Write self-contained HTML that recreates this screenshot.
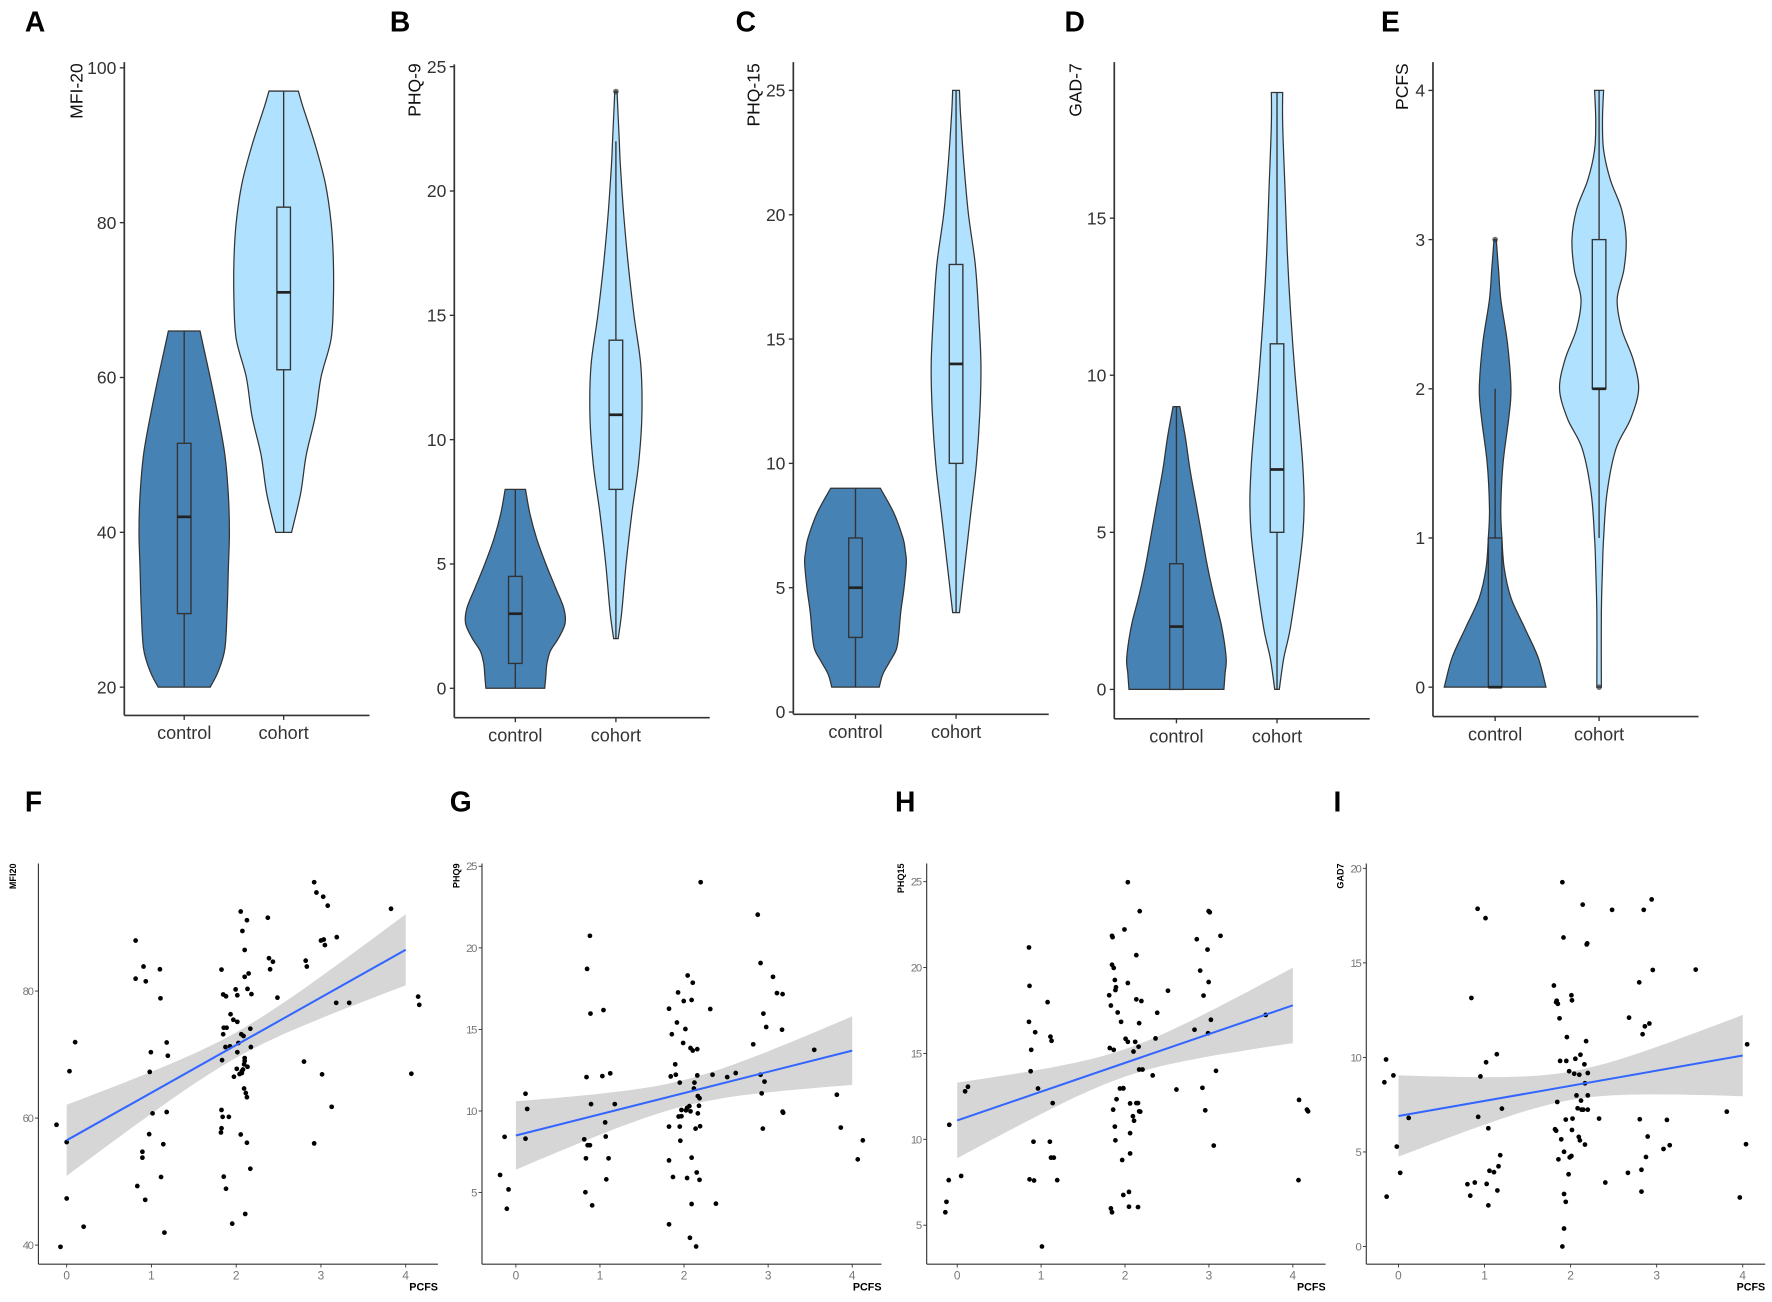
<!DOCTYPE html>
<html><head><meta charset="utf-8">
<style>
html,body{margin:0;padding:0;background:#fff;}
svg{display:block;}
text{font-family:"Liberation Sans",Arial,sans-serif;}
</style></head>
<body>
<svg id="s" width="1772" height="1302" viewBox="0 0 1568 1152" preserveAspectRatio="none" xmlns="http://www.w3.org/2000/svg"></svg>
<script>
var S=document.getElementById('s');var out='';
function add(s){out+=s;}
function smoothSide(pts){ // pts: array of [x,y]; catmull-rom -> bezier, returns path string (without M)
  var d='';
  for(var i=0;i<pts.length-1;i++){
    var p0=pts[i-1]||pts[i],p1=pts[i],p2=pts[i+1],p3=pts[i+2]||pts[i+1];
    var c1=[p1[0]+(p2[0]-p0[0])/6,p1[1]+(p2[1]-p0[1])/6];
    var c2=[p2[0]-(p3[0]-p1[0])/6,p2[1]-(p3[1]-p1[1])/6];
    d+=' C'+c1[0].toFixed(1)+','+c1[1].toFixed(1)+' '+c2[0].toFixed(1)+','+c2[1].toFixed(1)+' '+p2[0].toFixed(1)+','+p2[1].toFixed(1);
  }
  return d;
}
function violinPanel(cfg){
  var Y=function(v){return cfg.y0+(v-cfg.v0)*cfg.k;};
  // axes
  add('<line x1="'+cfg.ax+'" y1="'+cfg.top+'" x2="'+cfg.ax+'" y2="'+cfg.bot+'" stroke="#333" stroke-width="1.5"/>');
  add('<line x1="'+cfg.ax+'" y1="'+cfg.bot+'" x2="'+cfg.right+'" y2="'+cfg.bot+'" stroke="#333" stroke-width="1.5"/>');
  cfg.ticks.forEach(function(t){var y=Y(t);
    add('<line x1="'+(cfg.ax-4)+'" y1="'+y+'" x2="'+cfg.ax+'" y2="'+y+'" stroke="#333" stroke-width="1.2"/>');
    add('<text x="'+(cfg.ax-7)+'" y="'+(y+5.5)+'" font-size="15.5" fill="#333" text-anchor="end">'+t+'</text>');});
  add('<text transform="translate('+cfg.lx+','+cfg.ly+') rotate(-90)" font-size="15.5" fill="#111" text-anchor="end">'+cfg.title+'</text>');
  [cfg.c1,cfg.c2].forEach(function(c){
    add('<line x1="'+c+'" y1="'+cfg.bot+'" x2="'+c+'" y2="'+(cfg.bot+4)+'" stroke="#333" stroke-width="1.2"/>');});
  add('<text x="'+cfg.c1+'" y="'+(cfg.bot+21)+'" font-size="16" fill="#333" text-anchor="middle">control</text>');
  add('<text x="'+cfg.c2+'" y="'+(cfg.bot+21)+'" font-size="16" fill="#333" text-anchor="middle">cohort</text>');
  add('<text x="'+cfg.Lx+'" y="28" font-size="25" font-weight="bold" fill="#000">'+cfg.L+'</text>');
  [[cfg.c1,cfg.p1,'#4682b4',cfg.b1],[cfg.c2,cfg.p2,'#b0e2ff',cfg.b2]].forEach(function(a){
    var c=a[0],p=a[1];
    var right=p.map(function(q){return [c+q[1],Y(q[0])];});
    var left=p.slice().reverse().map(function(q){return [c-q[1],Y(q[0])];});
    var d='M'+(c-p[0][1])+','+Y(p[0][0])+' L'+right[0][0]+','+right[0][1]+smoothSide(right)+' L'+left[0][0]+','+left[0][1]+smoothSide(left)+' Z';
    add('<path d="'+d+'" fill="'+a[2]+'" stroke="#333" stroke-width="1.1"/>');
    var b=a[3],w=6;
    add('<line x1="'+c+'" y1="'+Y(b[0])+'" x2="'+c+'" y2="'+Y(b[4])+'" stroke="#333" stroke-width="1.2"/>');
    add('<rect x="'+(c-w)+'" y="'+Y(b[3])+'" width="'+(2*w)+'" height="'+(Y(b[1])-Y(b[3]))+'" fill="'+a[2]+'" stroke="#333" stroke-width="1.2"/>');
    add('<line x1="'+(c-w)+'" y1="'+Y(b[2])+'" x2="'+(c+w)+'" y2="'+Y(b[2])+'" stroke="#222" stroke-width="2.4"/>');
    (b[5]||[]).forEach(function(o){add('<circle cx="'+c+'" cy="'+Y(o)+'" r="2.5" fill="#333" fill-opacity="0.7"/>');});
  });
}
violinPanel({L:'A',Lx:22,ax:110,top:55,bot:633,right:327,v0:20,y0:608,k:-137/20,ticks:[20,40,60,80,100],title:'MFI-20',lx:73,ly:56,c1:163,c2:251,
 p1:[[20,23],[22,30],[25,36],[30,38],[35,39],[40,40],[45,39],[50,36],[55,30],[60,23],[64,17],[66,14]],
 p2:[[40,7],[45,15],[50,20],[55,28],[60,33],[65,42],[70,44],[75,44],[80,42],[85,37],[90,28],[95,17],[97,13]],
 b1:[20,29.5,42,51.5,66],b2:[40,61,71,82,97]});
violinPanel({L:'B',Lx:345,ax:402,top:57,bot:635,right:628,v0:0,y0:609,k:-22,ticks:[0,5,10,15,20,25],title:'PHQ-9',lx:372,ly:56,c1:456,c2:545,
 p1:[[0,26],[0.5,27],[1,28],[1.5,31],[2,38],[2.6,44],[3.2,43],[4,36],[5,27],[6,19],[7,13],[8,9]],
 p2:[[2,2],[3,5],[5,9],[7,14],[9,20],[11,23],[13,22],[15,16],[17,11],[19,7],[21,4],[22,3],[24,1]],
 b1:[0,1,3,4.5,8],b2:[2,8,11,14,22,[24]]});
violinPanel({L:'C',Lx:651,ax:702,top:55,bot:632,right:928,v0:0,y0:630,k:-22,ticks:[0,5,10,15,20,25],title:'PHQ-15',lx:672,ly:56,c1:757,c2:846,
 p1:[[1,21],[1.5,24],[2,30],[2.5,36],[3,38],[4,40],[5,43],[6,45],[6.5,44],[7,42],[8,34],[9,22]],
 p2:[[4,3],[6,8],[8,13],[10,18],[12,21],[14,22],[16,20],[18,17],[20,11],[22,7],[24,4],[25,3]],
 b1:[1,3,5,7,9],b2:[4,10,14,18,25]});
violinPanel({L:'D',Lx:942,ax:986,top:55,bot:636,right:1212,v0:0,y0:610,k:-139/5,ticks:[0,5,10,15],title:'GAD-7',lx:957,ly:56,c1:1041,c2:1130,
 p1:[[0,42],[0.5,43],[1,44],[2,40],[3,33],[4,27],[5,22],[6,17],[7,12],[8,8],[9,3]],
 p2:[[0,2],[1,6],[2,12],[4,20],[5,23],[6,24],[7,23],[8,21],[10,16],[12,12],[14,9],[16,7],[18,5],[19,5]],
 b1:[0,0,2,4,9],b2:[0,5,7,11,19]});
violinPanel({L:'E',Lx:1222,ax:1268,top:55,bot:634,right:1503,v0:0,y0:608,k:-132,ticks:[0,1,2,3,4],title:'PCFS',lx:1246,ly:56,c1:1323,c2:1415,
 p1:[[0,45],[0.2,38],[0.4,26],[0.6,14],[0.8,8],[1,6],[1.2,5],[1.5,7],[1.8,12],[2,14],[2.3,11],[2.6,5],[2.8,3],[3,1]],
 p2:[[0,2],[0.5,2],[0.8,3],[1,4],[1.3,7],[1.6,15],[1.8,28],[2,35],[2.2,30],[2.4,20],[2.6,16],[2.8,22],[3,24],[3.2,20],[3.4,10],[3.6,4],[3.8,3],[4,4]],
 b1:[0,0,0,1,2,[3]],b2:[1,2,2,3,4,[0]]});

// scatter panels (zoom coords -> main)
function scatter(cfg){
  var ox=cfg.ox;
  var MX=function(zx){return ox+zx/2;};
  var MY=function(zy){return 672.6+zy/3.27;};
  var X=function(v){return MX(cfg.x0z+v*cfg.xs);};
  var Y=function(v){return MY(cfg.y0z+(v-cfg.v0)*cfg.ys);};
  add('<text x="'+cfg.Lx+'" y="718" font-size="25" font-weight="bold" fill="#000">'+cfg.L+'</text>');
  // band
  var up=[],lo=[];
  for(var i=0;i<=40;i++){var v=i/10;var c=cfg.a+cfg.b*v;var h=Math.sqrt(cfg.hm*cfg.hm+(cfg.he*cfg.he-cfg.hm*cfg.hm)*Math.pow((v-2)/2,2));
    up.push(X(v).toFixed(1)+','+Y(c+h).toFixed(1));lo.unshift(X(v).toFixed(1)+','+Y(c-h).toFixed(1));}
  add('<polygon points="'+up.concat(lo).join(' ')+'" fill="#d6d6d6"/>');
  cfg.pts.forEach(function(p){add('<circle cx="'+MX(p[0]).toFixed(1)+'" cy="'+MY(p[1]).toFixed(1)+'" r="2.1" fill="#000"/>');});
  add('<line x1="'+X(0)+'" y1="'+Y(cfg.a)+'" x2="'+X(4)+'" y2="'+Y(cfg.a+4*cfg.b)+'" stroke="#3366ff" stroke-width="1.8"/>');
  var ax=MX(cfg.axz);
  add('<line x1="'+ax+'" y1="764" x2="'+ax+'" y2="1118.5" stroke="#333" stroke-width="1"/>');
  add('<line x1="'+ax+'" y1="1118.5" x2="'+MX(cfg.rz)+'" y2="1118.5" stroke="#333" stroke-width="1"/>');
  [0,1,2,3,4].forEach(function(v){var x=X(v);
    add('<line x1="'+x+'" y1="1118.5" x2="'+x+'" y2="1121.5" stroke="#333" stroke-width="0.8"/>');
    add('<text x="'+x+'" y="1132" font-size="10.5" fill="#777" text-anchor="middle">'+v+'</text>');});
  cfg.yt.forEach(function(v){var y=Y(v);
    add('<line x1="'+(ax-3)+'" y1="'+y+'" x2="'+ax+'" y2="'+y+'" stroke="#333" stroke-width="0.8"/>');
    add('<text x="'+(ax-4)+'" y="'+(y+3.5)+'" font-size="10" fill="#777" text-anchor="end" textLength="'+(String(v).length*5)+'">'+v+'</text>');});
  add('<text x="'+MX(cfg.rz)+'" y="1142" font-size="9.5" font-weight="bold" fill="#000" text-anchor="end">PCFS</text>');
  add('<text transform="translate('+(ax-20)+',764) rotate(-90)" font-size="8" font-weight="bold" fill="#000" text-anchor="end">'+cfg.title+'</text>');
}
scatter({L:'F',Lx:22,ox:0,axz:68,rz:775,x0z:118,xs:150,v0:40,y0z:1403,ys:-18.375,yt:[40,60,80],title:'MFI20',a:56.5,b:7.5,hm:2.0,he:5.6,
pts:[[100,1055],[107,1408],[118,1105],[118,1268],[123,900],[133,816],[148,1350],[240,522],[240,632],[254,597],[258,640],[283,605],[284,689],[265,902],[267,845],[270,1022],[264,1082],[252,1133],[252,1150],[243,1232],[257,1272],[285,1206],[289,1111],[291,1367],[295,817],[297,855],[295,1018],[392,606],[395,678],[400,683],[396,774],[401,774],[408,735],[413,751],[395,793],[399,830],[407,828],[393,868],[417,663],[420,680],[420,757],[422,818],[420,845],[414,916],[419,893],[424,908],[428,905],[430,895],[432,880],[433,862],[438,887],[427,793],[431,798],[443,777],[444,830],[428,900],[433,870],[426,438],[429,494],[433,549],[437,463],[433,627],[440,617],[438,662],[445,677],[432,950],[435,963],[437,975],[392,1012],[394,1032],[392,1065],[391,1077],[396,1205],[400,1240],[405,1032],[426,1083],[437,1107],[443,1182],[434,1313],[411,1341],[474,456],[476,573],[478,605],[483,583],[491,687],[538,872],[541,580],[543,597],[556,353],[560,383],[572,395],[580,421],[568,522],[575,535],[573,519],[596,512],[595,702],[618,702],[570,909],[556,1109],[587,1003],[692,430],[740,684],[742,708],[728,907]]});
scatter({L:'G',Lx:398,ox:0,axz:853,rz:1560,x0z:913,xs:148.8,v0:0,y0z:1487,ys:-47.2,yt:[5,10,15,20,25],title:'PHQ9',a:8.5,b:1.3,hm:0.8,he:2.1,
pts:[[885,1200],[893,1090],[900,1242],[897,1298],[930,965],[933,1009],[930,1095],[1034,1097],[1038,917],[1039,604],[1044,508],[1045,733],[1046,995],[1036,1250],[1037,1152],[1040,1114],[1044,1114],[1048,1288],[1066,914],[1068,723],[1071,1048],[1072,1089],[1073,1213],[1077,1152],[1080,906],[1088,995],[1184,719],[1187,915],[1184,1060],[1184,1158],[1189,793],[1191,1206],[1195,880],[1198,759],[1200,672],[1196,910],[1203,933],[1201,1031],[1203,1060],[1204,1101],[1206,1030],[1206,1012],[1209,818],[1210,697],[1213,778],[1214,1013],[1216,1006],[1216,1209],[1217,623],[1220,1001],[1222,1016],[1222,833],[1224,694],[1224,1150],[1224,1284],[1226,644],[1226,840],[1228,950],[1229,933],[1231,1066],[1233,1193],[1234,912],[1235,1022],[1234,836],[1237,1000],[1238,1214],[1235,972],[1238,978],[1239,1059],[1184,1343],[1221,1382],[1232,1407],[1240,353],[1257,720],[1261,910],[1267,1283],[1287,917],[1302,905],[1333,822],[1341,447],[1346,587],[1346,910],[1348,964],[1351,733],[1353,930],[1356,772],[1368,627],[1375,674],[1385,677],[1384,780],[1386,1020],[1385,1017],[1350,1066],[1441,838],[1481,968],[1488,1063],[1518,1155],[1527,1100]]});
scatter({L:'H',Lx:792,ox:784,axz:72,rz:778,x0z:126,xs:148.5,v0:0,y0z:1594,ys:-49.7,yt:[5,10,15,20,25],title:'PHQ15',a:11.1,b:1.675,hm:0.8,he:2.2,
pts:[[105,1308],[107,1278],[111,1215],[112,1055],[133,1203],[140,958],[145,945],[253,542],[254,653],[253,757],[257,838],[256,900],[264,787],[269,950],[261,1104],[254,1213],[262,1216],[286,700],[291,800],[293,812],[295,992],[290,1104],[292,1150],[297,1150],[303,1215],[276,1407],[395,680],[398,710],[400,592],[403,601],[405,636],[407,657],[406,665],[400,508],[401,512],[396,833],[403,838],[410,730],[416,757],[420,950],[422,490],[420,1258],[430,1249],[402,1011],[405,1060],[408,981],[406,1100],[418,1157],[432,1079],[432,993],[437,1030],[439,1043],[443,992],[446,992],[448,1016],[450,1017],[432,1138],[446,1293],[430,1292],[398,1297],[400,1308],[414,950],[420,949],[428,353],[428,645],[424,806],[428,815],[438,843],[441,815],[443,564],[448,761],[443,692],[452,697],[449,437],[448,895],[454,895],[447,829],[472,912],[477,805],[480,731],[499,667],[514,953],[546,780],[550,518],[556,609],[560,948],[562,681],[565,1013],[569,548],[571,642],[570,790],[571,437],[573,440],[575,751],[580,1115],[584,899],[592,508],[672,737],[731,983],[745,1011],[747,1016],[730,1215]]});
scatter({L:'I',Lx:1180,ox:784,axz:850,rz:1556,x0z:907,xs:152.3,v0:0,y0z:1407,ys:-54.7,yt:[0,5,10,15,20],title:'GAD7',a:6.9,b:0.8,hm:0.75,he:2.15,
pts:[[882,932],[885,866],[886,1263],[898,912],[904,1118],[910,1194],[925,1035],[1029,1227],[1034,1260],[1036,688],[1042,1222],[1047,430],[1048,1032],[1052,915],[1061,457],[1062,874],[1066,1065],[1063,1226],[1066,1288],[1068,1188],[1076,1192],[1081,851],[1082,1245],[1084,1175],[1087,1143],[1090,1008],[1182,652],[1184,1068],[1186,1072],[1186,700],[1187,696],[1188,989],[1189,705],[1190,1155],[1192,747],[1193,870],[1195,1097],[1197,353],[1199,513],[1200,1133],[1200,1255],[1203,1278],[1200,1355],[1197,1407],[1203,1040],[1204,870],[1205,801],[1208,1198],[1209,900],[1210,1149],[1213,1145],[1213,680],[1214,695],[1214,1070],[1215,1037],[1218,907],[1220,864],[1222,970],[1224,1007],[1226,1090],[1227,910],[1228,1100],[1229,852],[1230,985],[1231,1011],[1234,1011],[1236,880],[1237,935],[1237,1112],[1239,813],[1240,533],[1241,530],[1242,970],[1242,1011],[1242,905],[1233,418],[1262,1037],[1273,1222],[1285,433],[1313,1194],[1315,745],[1333,643],[1334,1039],[1337,1185],[1337,1248],[1339,793],[1341,433],[1343,770],[1345,1148],[1348,1089],[1351,762],[1355,403],[1357,607],[1376,1125],[1382,1041],[1387,1114],[1433,606],[1488,1017],[1511,1265],[1522,1111],[1524,822]]});
S.innerHTML=out;
</script>
</body></html>
